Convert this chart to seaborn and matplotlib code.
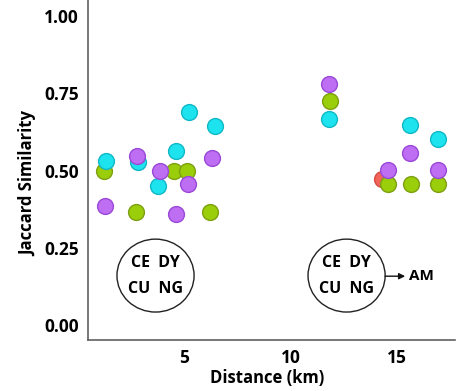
import matplotlib
matplotlib.use("Agg")
import matplotlib.pyplot as plt
import seaborn as sns
import pandas as pd
from matplotlib.patches import Ellipse

# Data
red_x = [14.28]
red_y = [0.472]
green_x = [1.26, 2.73, 4.55, 5.13, 6.22, 11.85, 14.56, 15.67, 16.91]
green_y = [0.498, 0.365, 0.499, 0.499, 0.367, 0.726, 0.455, 0.455, 0.455]
cyan_x = [1.32, 2.83, 3.79, 4.62, 5.25, 6.44, 11.79, 15.62, 16.92]
cyan_y = [0.532, 0.528, 0.451, 0.564, 0.688, 0.644, 0.668, 0.647, 0.602]
purple_x = [1.28, 2.78, 3.86, 4.62, 5.17, 6.31, 11.79, 14.56, 15.62, 16.91]
purple_y = [0.386, 0.547, 0.500, 0.359, 0.456, 0.539, 0.779, 0.502, 0.558, 0.502]

groups = ["red", "green", "cyan", "purple"]
face = {"red": "#F0645A", "green": "#9ACD0A", "cyan": "#1CE3EE", "purple": "#BE6EF2"}
edge = {"red": "#D84A40", "green": "#7FA010", "cyan": "#10B8C6", "purple": "#9A48D8"}

yticks = [0.00, 0.25, 0.50, 0.75, 1.00]
ytick_labels = ["0.00", "0.25", "0.50", "0.75", "1.00"]
xticks = [5, 10, 15]
xtick_labels = ["5", "10", "15"]

frames = []
for g, xs, ys in [("red", red_x, red_y), ("green", green_x, green_y),
                  ("cyan", cyan_x, cyan_y), ("purple", purple_x, purple_y)]:
    frames.append(pd.DataFrame({"Distance": xs, "Jaccard": ys, "group": g}))
df = pd.concat(frames, ignore_index=True)

sns.set_style("white")
plt.rcParams["font.family"] = ["Open Sans", "DejaVu Sans"]

fig = plt.figure(figsize=(4.63, 3.91), dpi=100)
ax = fig.add_axes([88 / 463, 1 - 340 / 391, (455 - 88) / 463, 340 / 391])

for g in groups:
    sub = df[df["group"] == g]
    sns.scatterplot(data=sub, x="Distance", y="Jaccard", ax=ax, s=130,
                    color=face[g], edgecolor=edge[g], linewidth=1.0,
                    legend=False, zorder=3)

ax.set_xlim(0.49, 17.72)
ax.set_ylim(-0.0485, 1.052)
ax.set_xticks(xticks)
ax.set_xticklabels(xtick_labels)
ax.set_yticks(yticks)
ax.set_yticklabels(ytick_labels)

for side in ["top", "right"]:
    ax.spines[side].set_visible(False)
for side in ["left", "bottom"]:
    ax.spines[side].set_color("#606060")
    ax.spines[side].set_linewidth(1.2)

ax.tick_params(axis="both", which="major", direction="out", length=4,
               width=1, color="#808080", labelsize=12.5, pad=2.5,
               labelcolor="black")
for lab in ax.get_xticklabels() + ax.get_yticklabels():
    lab.set_fontweight("bold")

ax.set_xlabel("Distance (km)", fontsize=12, fontweight="bold", color="black")
ax.set_ylabel("Jaccard Similarity", fontsize=12, fontweight="bold", color="black")
ax.xaxis.set_label_coords((267.5 - 88) / 367, -(378 - 340) / 340)
ax.yaxis.set_label_coords((28 - 88) / 367, (340 - 183) / 340)
ax.xaxis.label.set_va("center")
ax.xaxis.label.set_ha("center")
ax.yaxis.label.set_va("center")
ax.yaxis.label.set_ha("center")

# Annotation ellipses
for cx in [3.66, 12.63]:
    e = Ellipse((cx, 0.16), width=3.62, height=0.236, fill=False,
                edgecolor="#222222", linewidth=1.0, zorder=2)
    ax.add_patch(e)
    ax.text(cx, 0.202, "CE  DY", ha="center", va="center", fontsize=11.5,
            fontweight="bold", color="black")
    ax.text(cx, 0.117, "CU  NG", ha="center", va="center", fontsize=11.5,
            fontweight="bold", color="black")

ax.annotate("", xy=(15.38, 0.158), xytext=(14.44, 0.158),
            arrowprops=dict(arrowstyle="-|>", color="#111111", lw=1.0,
                            mutation_scale=9, shrinkA=0, shrinkB=0))
ax.text(15.56, 0.16, "AM", ha="left", va="center", fontsize=11,
        fontweight="bold", color="black")

fig.savefig("out.png", dpi=100)
